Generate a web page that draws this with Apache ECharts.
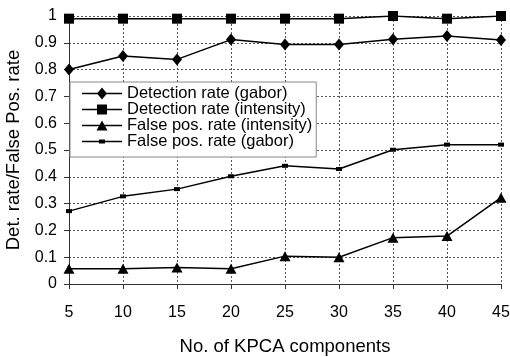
<!DOCTYPE html>
<html>
<head>
<meta charset="utf-8">
<script src="https://cdn.jsdelivr.net/npm/echarts@6/dist/echarts.min.js"></script>
<style>
    html, body { margin: 0; padding: 0; background: #fff; }
    #chart { width: 510px; height: 357px; }
</style>
</head>
<body>
<div id="chart"></div>
<script>
// data
var components = ['5', '10', '15', '20', '25', '30', '35', '40', '45'];
var detGabor = [0.80, 0.851, 0.838, 0.912, 0.894, 0.894, 0.913, 0.925, 0.91];
var detIntensity = [0.99, 0.99, 0.99, 0.99, 0.99, 0.99, 1.0, 0.99, 1.0];
var fpIntensity = [0.057, 0.057, 0.062, 0.057, 0.104, 0.10, 0.173, 0.179, 0.322];
var fpGabor = [0.272, 0.327, 0.354, 0.402, 0.441, 0.429, 0.501, 0.52, 0.52];
var seriesNames = ['Detection rate (gabor)', 'Detection rate (intensity)', 'False pos. rate (intensity)', 'False pos. rate (gabor)'];

var font = 'Liberation Sans, Arial, sans-serif';

// legend icons: line + marker, drawn in a 40x12 box
var lineBar = 'M0 5.25 H40 V6.75 H0 Z ';
var legendIcons = [
    'path://' + lineBar + 'M20 0 L25 6 L20 12 L15 6 Z',
    'path://M0 0 H0.01 V12 H0 Z ' + lineBar + 'M15 1 H25 V11 H15 Z',
    'path://M0 0 H0.01 V12 H0 Z ' + lineBar + 'M20 1 L25.5 11 L14.5 11 Z',
    'path://M0 0 H0.01 V12 H0 Z ' + lineBar + 'M17 4 H23 V8 H17 Z'
];

function makeLine(name, data, symbol, size) {
    return {
        name: name,
        type: 'line',
        data: data,
        symbol: symbol,
        symbolSize: size,
        showAllSymbol: true,
        lineStyle: { color: '#000', width: 1.5 },
        itemStyle: { color: '#000' },
        animation: false
    };
}

var myChart = echarts.init(document.getElementById('chart'));

var option = {
    backgroundColor: '#fff',
    textStyle: { fontFamily: font, color: '#000' },
    grid: {
        left: 69,
        right: 9,
        top: 16,
        bottom: 73,
        outerBoundsMode: 'none'
    },
    legend: {
        orient: 'vertical',
        left: 70,
        top: 82,
        data: seriesNames.map(function (n, i) {
            return { name: n, icon: legendIcons[i] };
        }),
        itemWidth: 40,
        itemHeight: 12,
        itemGap: -1,
        padding: [3, 4, 7, 12],
        backgroundColor: '#fff',
        borderColor: '#888',
        borderWidth: 1,
        borderRadius: 0,
        itemStyle: { color: '#000', borderWidth: 0 },
        textStyle: { fontFamily: font, fontSize: 16.5, color: '#000', lineHeight: 16 }
    },
    xAxis: {
        type: 'category',
        data: components,
        boundaryGap: false,
        name: 'No. of KPCA components',
        nameLocation: 'middle',
        nameGap: 53,
        nameTextStyle: { fontFamily: font, fontSize: 18.5, color: '#000' },
        axisLine: { lineStyle: { color: '#333', width: 1 } },
        axisTick: { show: true, length: 5, lineStyle: { color: '#333' } },
        axisLabel: { margin: 21, fontSize: 16, color: '#000', fontFamily: font },
        splitLine: { show: true, lineStyle: { color: '#555', type: [2, 2], width: 1 } }
    },
    yAxis: {
        type: 'value',
        min: 0,
        max: 1,
        interval: 0.1,
        name: 'Det. rate/False Pos. rate',
        nameLocation: 'middle',
        nameGap: 40,
        nameTextStyle: { fontFamily: font, fontSize: 18.5, color: '#000' },
        axisLine: { show: true, lineStyle: { color: '#333', width: 1 } },
        axisTick: { show: true, length: 5, lineStyle: { color: '#333' } },
        axisLabel: { margin: 12, fontSize: 16, color: '#000', fontFamily: font },
        splitLine: { show: true, lineStyle: { color: '#555', type: [2, 2], width: 1 } }
    },
    series: [
        makeLine(seriesNames[0], detGabor, 'diamond', [10, 12]),
        makeLine(seriesNames[1], detIntensity, 'rect', 10),
        makeLine(seriesNames[2], fpIntensity, 'triangle', [11, 10]),
        makeLine(seriesNames[3], fpGabor, 'rect', [6, 4])
    ]
};

myChart.setOption(option);
</script>
</body>
</html>
